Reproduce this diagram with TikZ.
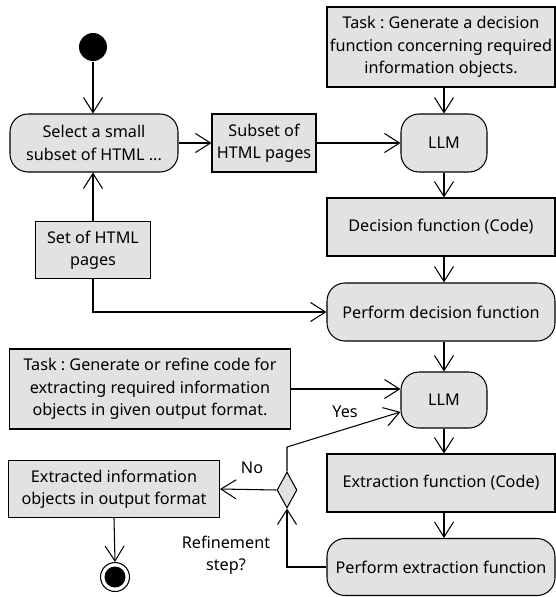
\documentclass[tikz,border=0pt]{standalone}
\usepackage{fontspec}
\setmainfont{Noto Sans}
\frenchspacing
\usetikzlibrary{arrows.meta,shapes.geometric}
\definecolor{boxfill}{RGB}{226,226,226}
\begin{document}
\begin{tikzpicture}[x=1pt,y=-1pt, line width=1.05pt,
  >={Straight Barb[length=15pt,width=19pt,line width=1.05pt]},
  base/.style={draw, fill=boxfill, align=center, font=\fontsize{16.2}{22.5}\selectfont, inner sep=0pt},
  objbox/.style={base, rectangle},
  actbox/.style={base, rounded corners=18pt},
  lbl/.style={align=center, font=\fontsize{16.2}{22.5}\selectfont, inner sep=0pt},
  conn/.style={->}]
\useasboundingbox (0,0) rectangle (556,597);

\node[circle, fill=black, minimum size=28pt, inner sep=0pt] (start) at (93,47) {};
\node[actbox, minimum width=168pt, minimum height=58pt] (sel) at (94,143) {Select a small\\subset of HTML ...};
\node[objbox, minimum width=104pt, minimum height=58pt] (sub) at (264,143) {Subset of\\HTML pages};
\node[actbox, minimum width=86pt, minimum height=58pt] (llm1) at (444,143) {LLM};
\node[objbox, minimum width=228pt, minimum height=80pt] (task1) at (441,47) {Task : Generate a decision\\function concerning required\\information objects.};
\node[objbox, minimum width=228pt, minimum height=58pt] (dec) at (441,227) {Decision function (Code)};
\node[actbox, minimum width=228pt, minimum height=58pt] (perf1) at (441,312) {Perform decision function};
\node[objbox, minimum width=115pt, minimum height=57pt] (set) at (93,250) {Set of HTML\\pages};
\node[objbox, minimum width=281pt, minimum height=80pt] (task2) at (150,389) {Task : Generate or refine code for\\extracting required information\\objects in given output format.};
\node[actbox, minimum width=86pt, minimum height=56pt] (llm2) at (444,400) {LLM};
\node[objbox, minimum width=228pt, minimum height=58pt] (ext) at (441,483) {Extraction function (Code)};
\node[actbox, minimum width=228pt, minimum height=57pt] (perf2) at (441,567) {Perform extraction function};
\node[diamond, draw, fill=boxfill, minimum width=20pt, minimum height=36pt, inner sep=0pt] (dia) at (287,490) {};
\node[objbox, minimum width=211pt, minimum height=57pt] (out) at (114,489) {Extracted information\\objects in output format};
\node[circle, draw, fill=white, minimum size=29pt, inner sep=0pt] (endo) at (115,577) {};
\node[circle, fill=black, minimum size=21pt, inner sep=0pt] (endi) at (115,577) {};

\node[lbl] (yes) at (345,412) {Yes};
\node[lbl] (no) at (252,468) {No};
\node[lbl] (refq) at (226,555) {Refinement\\step?};

\coordinate (bend) at (287,447);

\draw[conn] (start) -- (start |- sel.north);
\draw[conn] (sel.east) -- (sub.west);
\draw[conn] (sub.east) -- (llm1.west);
\draw[conn] (llm1.north |- task1.south) -- (llm1.north);
\draw[conn] (llm1.south) -- (llm1.south |- dec.north);
\draw[conn] (llm1.south |- dec.south) -- (llm1.south |- perf1.north);
\draw[conn] (set.north) -- (set.north |- sel.south);
\draw[conn] (set.south) -- (set.south |- perf1.west) -- (perf1.west);
\draw[conn] (llm1.south |- perf1.south) -- (llm2.north);
\draw[conn] (task2.east) -- (task2.east -| llm2.west);
\draw[conn] (llm2.south) -- (llm2.south |- ext.north);
\draw[conn] (llm2.south |- ext.south) -- (llm2.south |- perf2.north);
\draw[conn] (perf2.west) -- (dia.south |- perf2.west) -- (dia.south);
\draw[conn] (dia.north) -- (bend) -- ([yshift=-12pt]llm2.west);
\draw[conn] (dia.west) -- (out.east);
\draw[conn] (out.south) -- (endo.north);
\end{tikzpicture}
\end{document}
